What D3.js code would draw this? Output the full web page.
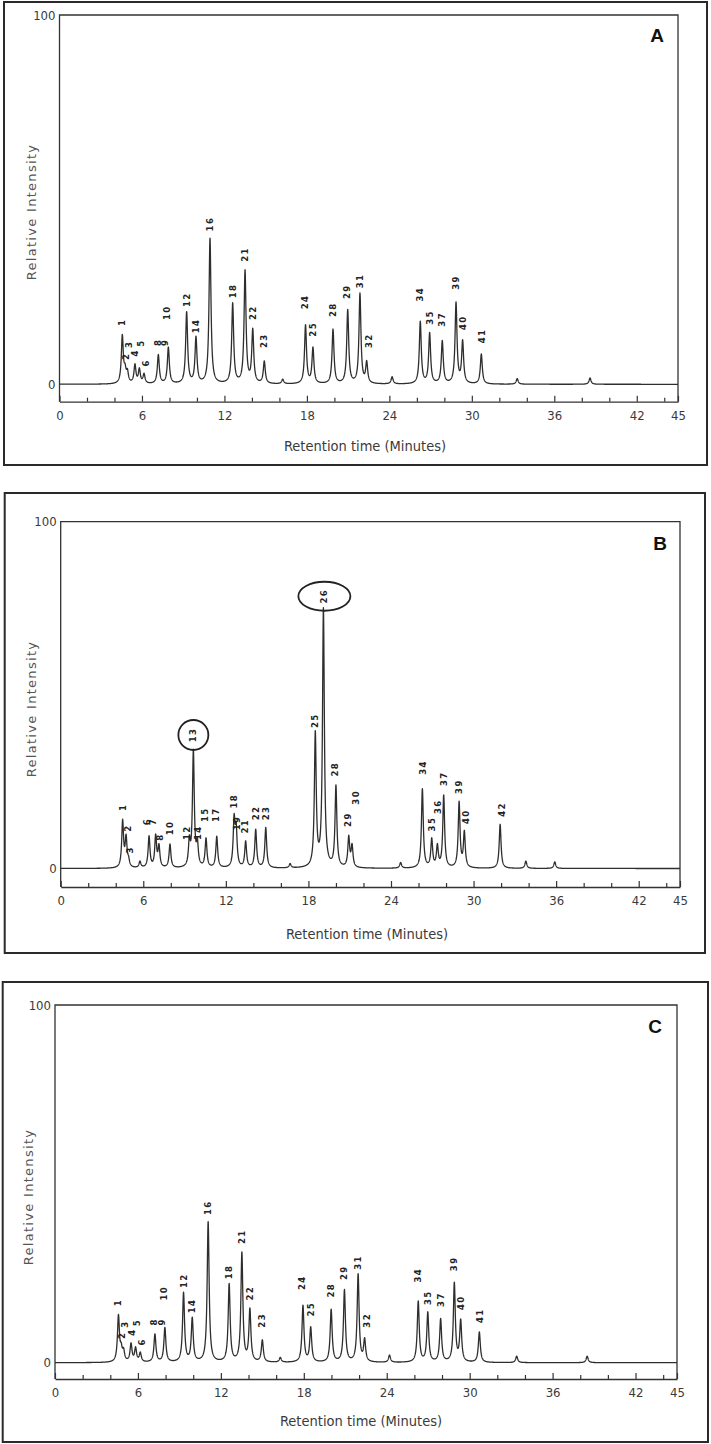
<!DOCTYPE html>
<html><head><meta charset="utf-8">
<script src="https://cdn.jsdelivr.net/npm/d3@7/dist/d3.min.js"></script>
<style>
body{margin:0;background:#fff}
svg{display:block}
.tick text{font-family:"Liberation Sans Narrow","DejaVu Sans Condensed","Liberation Sans",sans-serif;font-size:13px;fill:#3a3a3a}
</style>
</head><body>
<svg id="chart" width="711" height="1444"></svg>
<script>
// ---------- Panel A ----------
const peakTimeA   = [4.57,4.77,4.94,5.49,5.81,6.15,7.19,7.92,9.25,9.93,10.95,12.6,13.5,14.06,14.9,16.24,17.9,18.44,19.9,20.97,21.86,22.35,24.2,26.25,26.93,27.85,28.85,29.33,30.69,33.3,38.6];
const peakHeightA = [12.8,3.0,2.8,5.0,3.8,2.5,7.8,9.8,19.3,12.4,39.3,21.6,30.4,14.3,6.0,1.2,15.8,9.6,14.7,19.9,24.3,5.6,1.9,16.8,13.6,11.5,21.8,11.3,8.1,1.5,1.7];
const labelTextA  = ["1","2","3","4","5","6","8","9","10","12","14","16","18","21","22","23","24","25","28","29","31","32","34","35","37","39","40","41"];
const labelTimeA  = [4.57,4.81,5.08,5.52,5.93,6.27,7.14,7.68,7.8,9.25,9.93,10.95,12.6,13.5,14.06,14.9,17.86,18.47,19.87,20.9,21.86,22.5,26.23,26.93,27.85,28.85,29.33,30.72];
const labelLevelA = [15.8,6.6,9.8,7.5,10.2,4.8,10.4,10.4,17.4,20.9,13.8,41.4,23.3,33.2,17.4,9.8,20.3,12.9,18.2,23.1,26.0,9.8,22.4,16.1,15.6,25.6,14.7,11.1];

// ---------- Panel B ----------
const peakTimeB   = [4.5,4.75,4.93,5.76,6.42,6.9,7.14,7.94,9.35,9.64,9.93,10.56,11.34,12.6,12.75,13.44,14.17,14.9,16.67,18.5,19.09,20.0,20.93,21.17,24.7,26.28,26.96,27.37,27.83,28.95,29.33,31.93,33.8,35.9];
const peakHeightB = [13.3,8.3,1.8,1.8,9.0,9.0,6.0,6.8,7.0,33.3,6.2,8.3,9.0,13.3,10.3,7.5,11.0,11.6,1.2,38.3,74.3,23.3,8.6,6.1,1.6,22.8,8.1,6.1,20.8,18.8,10.1,12.7,2.1,1.9];
const labelTextB  = ["1","2","3","6","7","8","10","12","14","15","17","18","19","21","22","23","25","28","29","30","34","35","36","37","39","40","42"];
const labelTimeB  = [4.55,4.92,5.04,6.3,6.69,7.22,7.94,9.2,10.0,10.49,11.29,12.59,12.79,13.39,14.17,14.9,18.5,19.93,20.9,21.46,26.31,26.96,27.42,27.88,28.95,29.45,32.05];
const labelLevelB = [16.6,10.6,4.3,12.5,12.5,8.0,9.6,8.2,8.2,13.4,13.4,17.3,11.0,10.1,13.9,13.9,40.5,26.5,12.0,18.4,27.0,10.7,15.7,23.8,21.5,12.8,14.9];
const circledTextB  = ["13","26"];
const circledTimeB  = [9.64,19.16];
const circledLevelB = [38.5,78.5];

// ---------- Panel C ----------
const peakTimeC   = [4.59,4.79,4.96,5.5,5.83,6.17,7.23,7.95,9.3,9.93,11.08,12.6,13.52,14.1,15.0,16.3,17.94,18.5,19.98,20.94,21.93,22.4,24.2,26.28,26.97,27.9,28.89,29.35,30.7,33.4,38.5];
const peakHeightC = [12.8,3.0,2.8,5.0,3.8,2.5,7.8,9.6,19.3,12.1,39.2,21.7,30.4,14.5,6.1,1.3,15.8,9.6,14.7,20.1,24.5,6.1,2.0,17.0,13.8,12.0,22.0,11.4,8.5,1.8,1.8];
const labelTextC  = ["1","2","3","4","5","6","8","9","10","12","14","16","18","21","22","23","24","25","28","29","31","32","34","35","37","39","40","41"];
const labelTimeC  = [4.59,4.83,5.1,5.54,5.95,6.29,7.18,7.72,7.85,9.3,9.93,11.08,12.6,13.52,14.1,15.0,17.9,18.53,19.95,20.9,21.93,22.55,26.26,26.97,27.9,28.89,29.35,30.73];
const labelLevelC = [15.8,6.6,9.8,7.5,10.2,4.8,10.4,10.4,17.4,20.9,13.8,41.3,23.3,33.2,17.4,9.8,20.3,12.9,18.2,23.1,26.0,9.8,22.4,16.1,15.6,25.6,14.7,11.1];

// ---------- Axes ----------
const majorTicks = [0,6,12,18,24,30,36,42,45];
const minorTicks = [2,4,8,10,14,16,20,22,26,28,32,34,38,40,44];
const yTicks = [0,100];
const xTitle = "Retention time (Minutes)";
const yTitle = "Relative Intensity";

const panels = [
  {letter:"A", times:peakTimeA, heights:peakHeightA, lt:labelTextA, ltime:labelTimeA, llev:labelLevelA, w:0.085,
   frame:[4,2,707,465], xr:[59.5,678], y0:384.3, y100:15, axisY:401.7, titleY:451, titleX:365, ylx:31, yly:212, letterXY:[657,42]},
  {letter:"B", times:peakTimeB, heights:peakHeightB, lt:labelTextB, ltime:labelTimeB, llev:labelLevelB, w:0.08,
   ct:circledTextB, ctime:circledTimeB, clev:circledLevelB,
   frame:[4.7,493,705,953], xr:[60.7,680], y0:868.5, y100:521.7, axisY:887, titleY:939, titleX:367, ylx:31, yly:709, letterXY:[660,550]},
  {letter:"C", times:peakTimeC, heights:peakHeightC, lt:labelTextC, ltime:labelTimeC, llev:labelLevelC, w:0.085,
   frame:[2.7,982,708,1442], xr:[55,677], y0:1362.7, y100:1005, axisY:1379, titleY:1426, titleX:361, ylx:28, yly:1197, letterXY:[655,1033]}
];

const svg = d3.select("#chart");
const ink = "#333";

panels.forEach(p => {
  const g = svg.append("g");
  const x = d3.scaleLinear().domain([0,45]).range(p.xr);
  const y = d3.scaleLinear().domain([0,100]).range([p.y0, p.y100]);

  // outer frame
  g.append("rect").attr("x",p.frame[0]).attr("y",p.frame[1])
    .attr("width",p.frame[2]-p.frame[0]).attr("height",p.frame[3]-p.frame[1])
    .attr("fill","none").attr("stroke","#2a2a2a").attr("stroke-width",2);

  // plot box: top line, left & right verticals
  g.append("path")
    .attr("d",`M${x(0)},${p.axisY}V${y(100)}H${x(45)}V${p.axisY}`)
    .attr("fill","none").attr("stroke",ink).attr("stroke-width",1.3);

  // x axis (ticks pointing up)
  const xa = g.append("g").attr("transform",`translate(0,${p.axisY})`)
    .call(d3.axisBottom(x).tickValues(majorTicks).tickSizeInner(-6).tickSizeOuter(0).tickPadding(9).tickFormat(d3.format("d")));
  xa.select(".domain").attr("stroke",ink).attr("stroke-width",1.3);
  xa.selectAll(".tick line").attr("stroke",ink).attr("stroke-width",1.2);
  const xm = g.append("g").attr("transform",`translate(0,${p.axisY})`)
    .call(d3.axisBottom(x).tickValues(minorTicks).tickSizeInner(-4).tickSizeOuter(0).tickFormat(""));
  xm.select(".domain").remove();
  xm.selectAll(".tick line").attr("stroke",ink).attr("stroke-width",1.2);

  // y axis labels 0 / 100
  const ya = g.append("g").attr("transform",`translate(${x(0)},0)`)
    .call(d3.axisLeft(y).tickValues(yTicks).tickSize(0).tickPadding(4).tickFormat(d3.format("d")));
  ya.select(".domain").remove();
  ya.selectAll(".tick text").style("font-size","13px");

  // axis titles
  g.append("text").attr("x",p.titleX).attr("y",p.titleY).attr("text-anchor","middle")
    .style("font-family",'"Liberation Sans Narrow","DejaVu Sans Condensed",sans-serif')
    .style("font-size","14.5px").attr("fill","#3a3a3a").text(xTitle);
  g.append("text").attr("transform",`translate(${p.ylx},${p.yly}) rotate(-90)`)
    .attr("text-anchor","middle").attr("dominant-baseline","central")
    .style("font-family",'"DejaVu Sans",sans-serif').style("font-size","13px")
    .style("letter-spacing","1.3px").attr("fill","#555").text(yTitle);

  // panel letter
  g.append("text").attr("x",p.letterXY[0]).attr("y",p.letterXY[1]).attr("text-anchor","middle")
    .style("font-family",'"Liberation Sans",Arial,sans-serif').style("font-weight","bold")
    .style("font-size","19px").attr("fill","#111").text(p.letter);

  // chromatogram trace from peaks (Lorentzian peak shape)
  const ts = d3.range(0, 45.0001, 0.01);
  const pts = ts.map(t => {
    let v = 0;
    for (let i=0;i<p.times.length;i++){ const d=(t-p.times[i])/p.w; v += p.heights[i]/(1+d*d); }
    return [t, v];
  });
  g.append("path").datum(pts)
    .attr("d", d3.line().x(d=>x(d[0])).y(d=>y(d[1])))
    .attr("fill","none").attr("stroke","#2e2e2e").attr("stroke-width",1.3).attr("stroke-linejoin","round");

  // peak labels (rotated, reading bottom to top)
  g.selectAll("text.pl").data(p.lt).join("text").attr("class","pl")
    .attr("transform",(d,i)=>`translate(${x(p.ltime[i])},${y(p.llev[i])}) rotate(-90)`)
    .attr("dominant-baseline","central")
    .style("font-family",'"DejaVu Sans",sans-serif').style("font-weight","bold")
    .style("font-size","8.5px").style("letter-spacing","1.4px").attr("fill","#222")
    .text(d=>d);

  // circled labels (panel B)
  if (p.ct) {
    p.ct.forEach((t,i) => {
      const cx = x(p.ctime[i]), cy = y(p.clev[i]);
      const rx = t.length && i===0 ? 15 : 26, ry = i===0 ? 15 : 14.5;
      g.append("ellipse").attr("cx",cx).attr("cy",cy).attr("rx",rx).attr("ry",ry)
        .attr("fill","none").attr("stroke","#222").attr("stroke-width",1.8);
      g.append("text").attr("transform",`translate(${cx},${cy}) rotate(-90)`)
        .attr("text-anchor","middle").attr("dominant-baseline","central")
        .style("font-family",'"DejaVu Sans",sans-serif').style("font-weight","bold")
        .style("font-size","8.5px").style("letter-spacing","1.4px").attr("fill","#222").text(t);
    });
  }
});
</script>
</body></html>
